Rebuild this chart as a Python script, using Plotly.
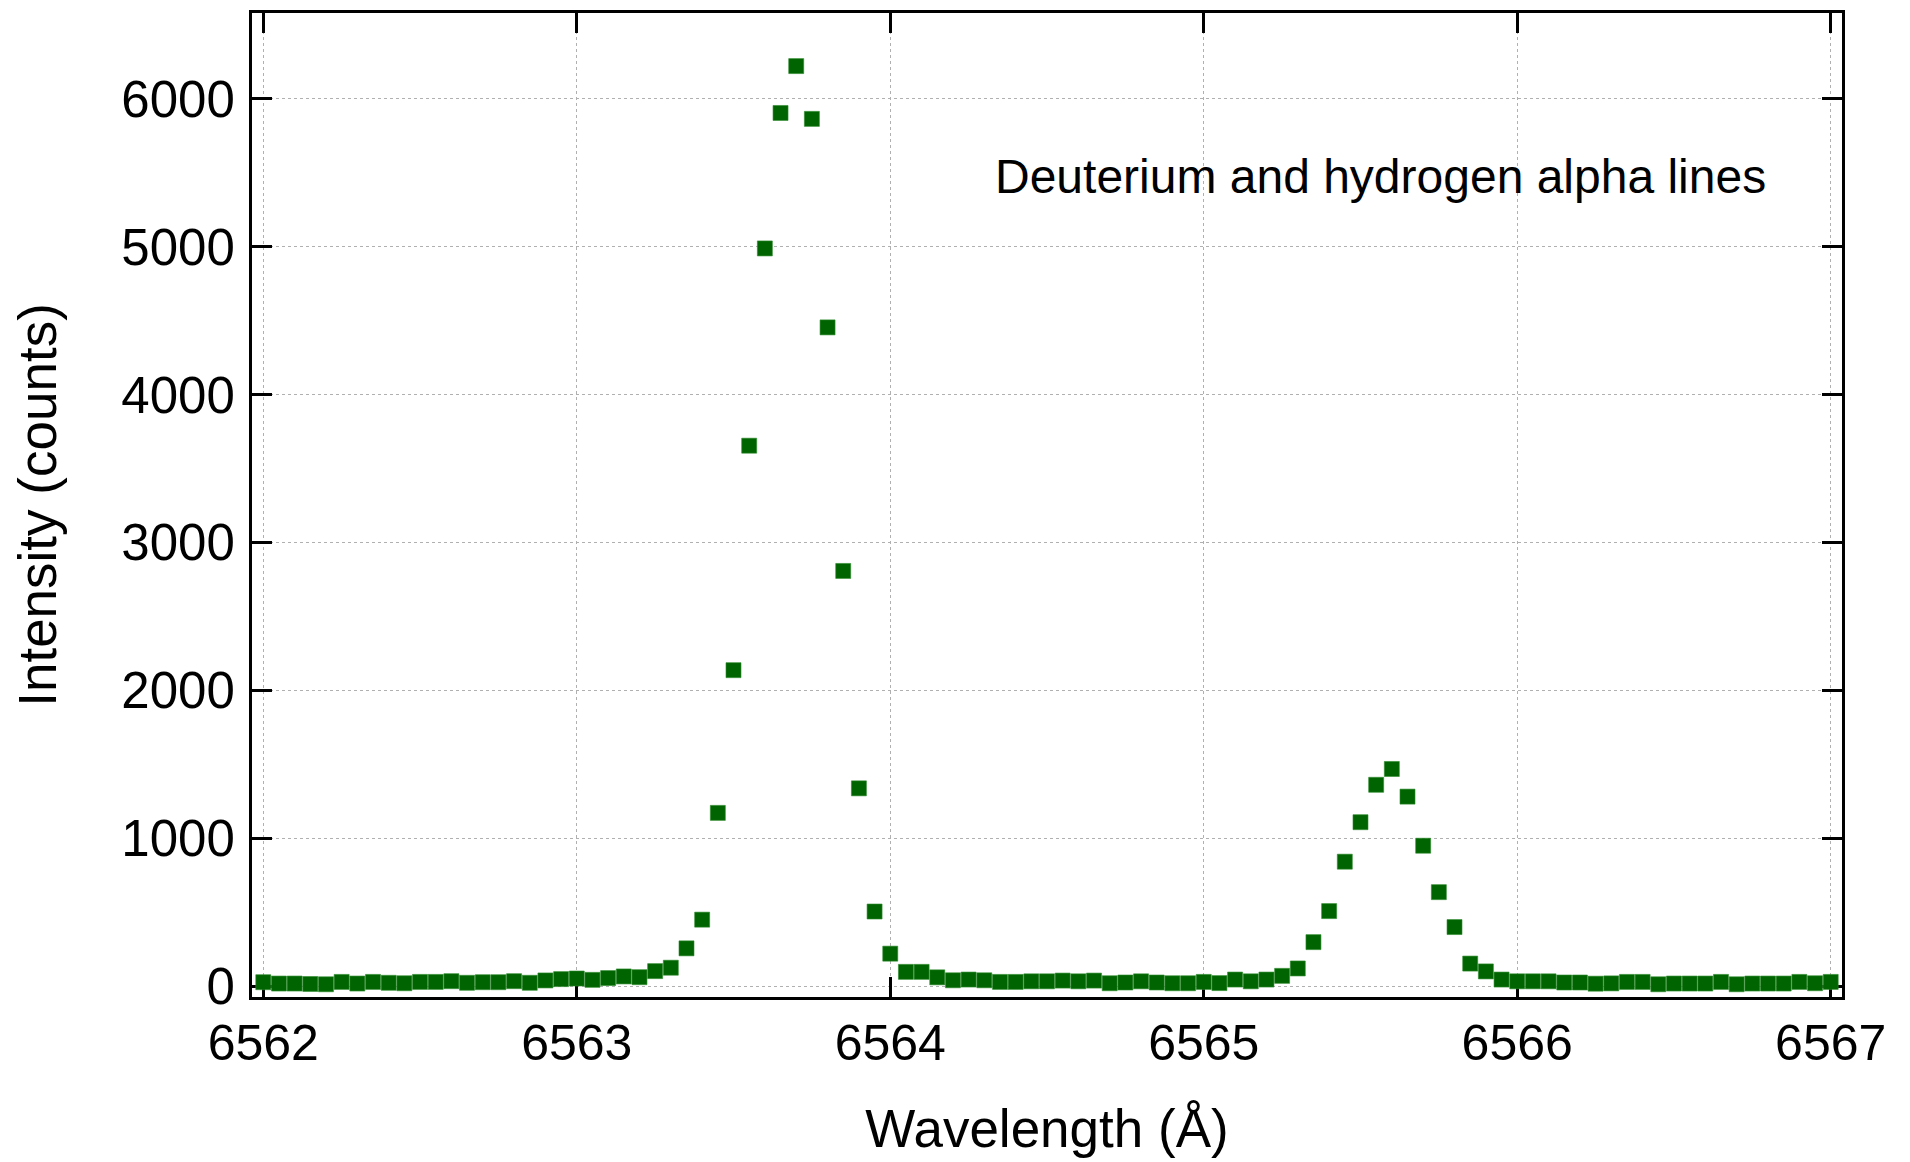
import numpy as np
import plotly.graph_objects as go

# Wavelength samples (Angstrom), 0.05 A spacing
wavelength = [round(6562.0 + 0.05 * i, 2) for i in range(101)]

intensity = [
    27, 18, 18, 15, 13, 29, 18, 29, 23, 20,
    29, 29, 34, 23, 27, 27, 34, 23, 39, 48,
    52, 43, 55, 66, 61, 102, 125, 256, 450, 1172,
    2137, 3655, 4989, 5905, 6222, 5865, 4455, 2808, 1338, 505,
    220, 97, 97, 60, 40, 45, 40, 29, 29, 33,
    33, 38, 33, 38, 20, 25, 33, 25, 20, 20,
    29, 21, 45, 33, 45, 70, 120, 298, 508, 842,
    1109, 1362, 1469, 1282, 950, 636, 400, 153, 100, 45,
    33, 33, 33, 25, 25, 17, 19, 29, 29, 13,
    18, 18, 18, 29, 13, 18, 18, 18, 29, 20,
    29,
]

x_ticks = [6562, 6563, 6564, 6565, 6566, 6567]
y_ticks = [0, 1000, 2000, 3000, 4000, 5000, 6000]
annotation_text = "Deuterium and hydrogen alpha lines"

FONT = "Liberation Sans, Arial, Helvetica, sans-serif"

fig = go.Figure()
fig.add_trace(go.Scatter(
    x=wavelength, y=intensity, mode="markers",
    marker=dict(symbol="square", size=15, color="#006400",
                line=dict(width=0.6, color="#2e8b2e")),
    showlegend=False,
))

axis_common = dict(
    showline=True, linewidth=3, linecolor="black", mirror="ticks",
    ticks="inside", ticklen=20, tickwidth=3, tickcolor="black",
    showgrid=True, gridcolor="#b0b0b0", gridwidth=1, griddash="dot",
    zeroline=False, layer="below traces",
)

fig.update_xaxes(
    range=[6561.964, 6567.036], tickvals=x_ticks,
    ticktext=[str(v) for v in x_ticks],
    tickfont=dict(family=FONT, size=50, color="black"),
    title=dict(text="Wavelength (Å)", font=dict(family=FONT, size=53, color="black"), standoff=40),
    ticklabelstandoff=0,
    **axis_common,
)
fig.update_yaxes(
    range=[-73, 6581], tickvals=y_ticks,
    ticktext=[str(v) for v in y_ticks],
    tickfont=dict(family=FONT, size=51, color="black"),
    title=dict(text="Intensity (counts)", font=dict(family=FONT, size=53, color="black"), standoff=48),
    ticklabelstandoff=4,
    **axis_common,
)

fig.add_annotation(
    xref="paper", yref="paper", x=0.466, y=0.834,
    xanchor="left", yanchor="middle", showarrow=False,
    text=annotation_text, font=dict(family=FONT, size=48, color="black"),
)

fig.update_layout(
    width=1910, height=1162,
    margin=dict(l=252, r=68, t=10, b=165),
    paper_bgcolor="white", plot_bgcolor="white",
    font=dict(family=FONT, color="black"),
)

fig.write_html("out.html")
